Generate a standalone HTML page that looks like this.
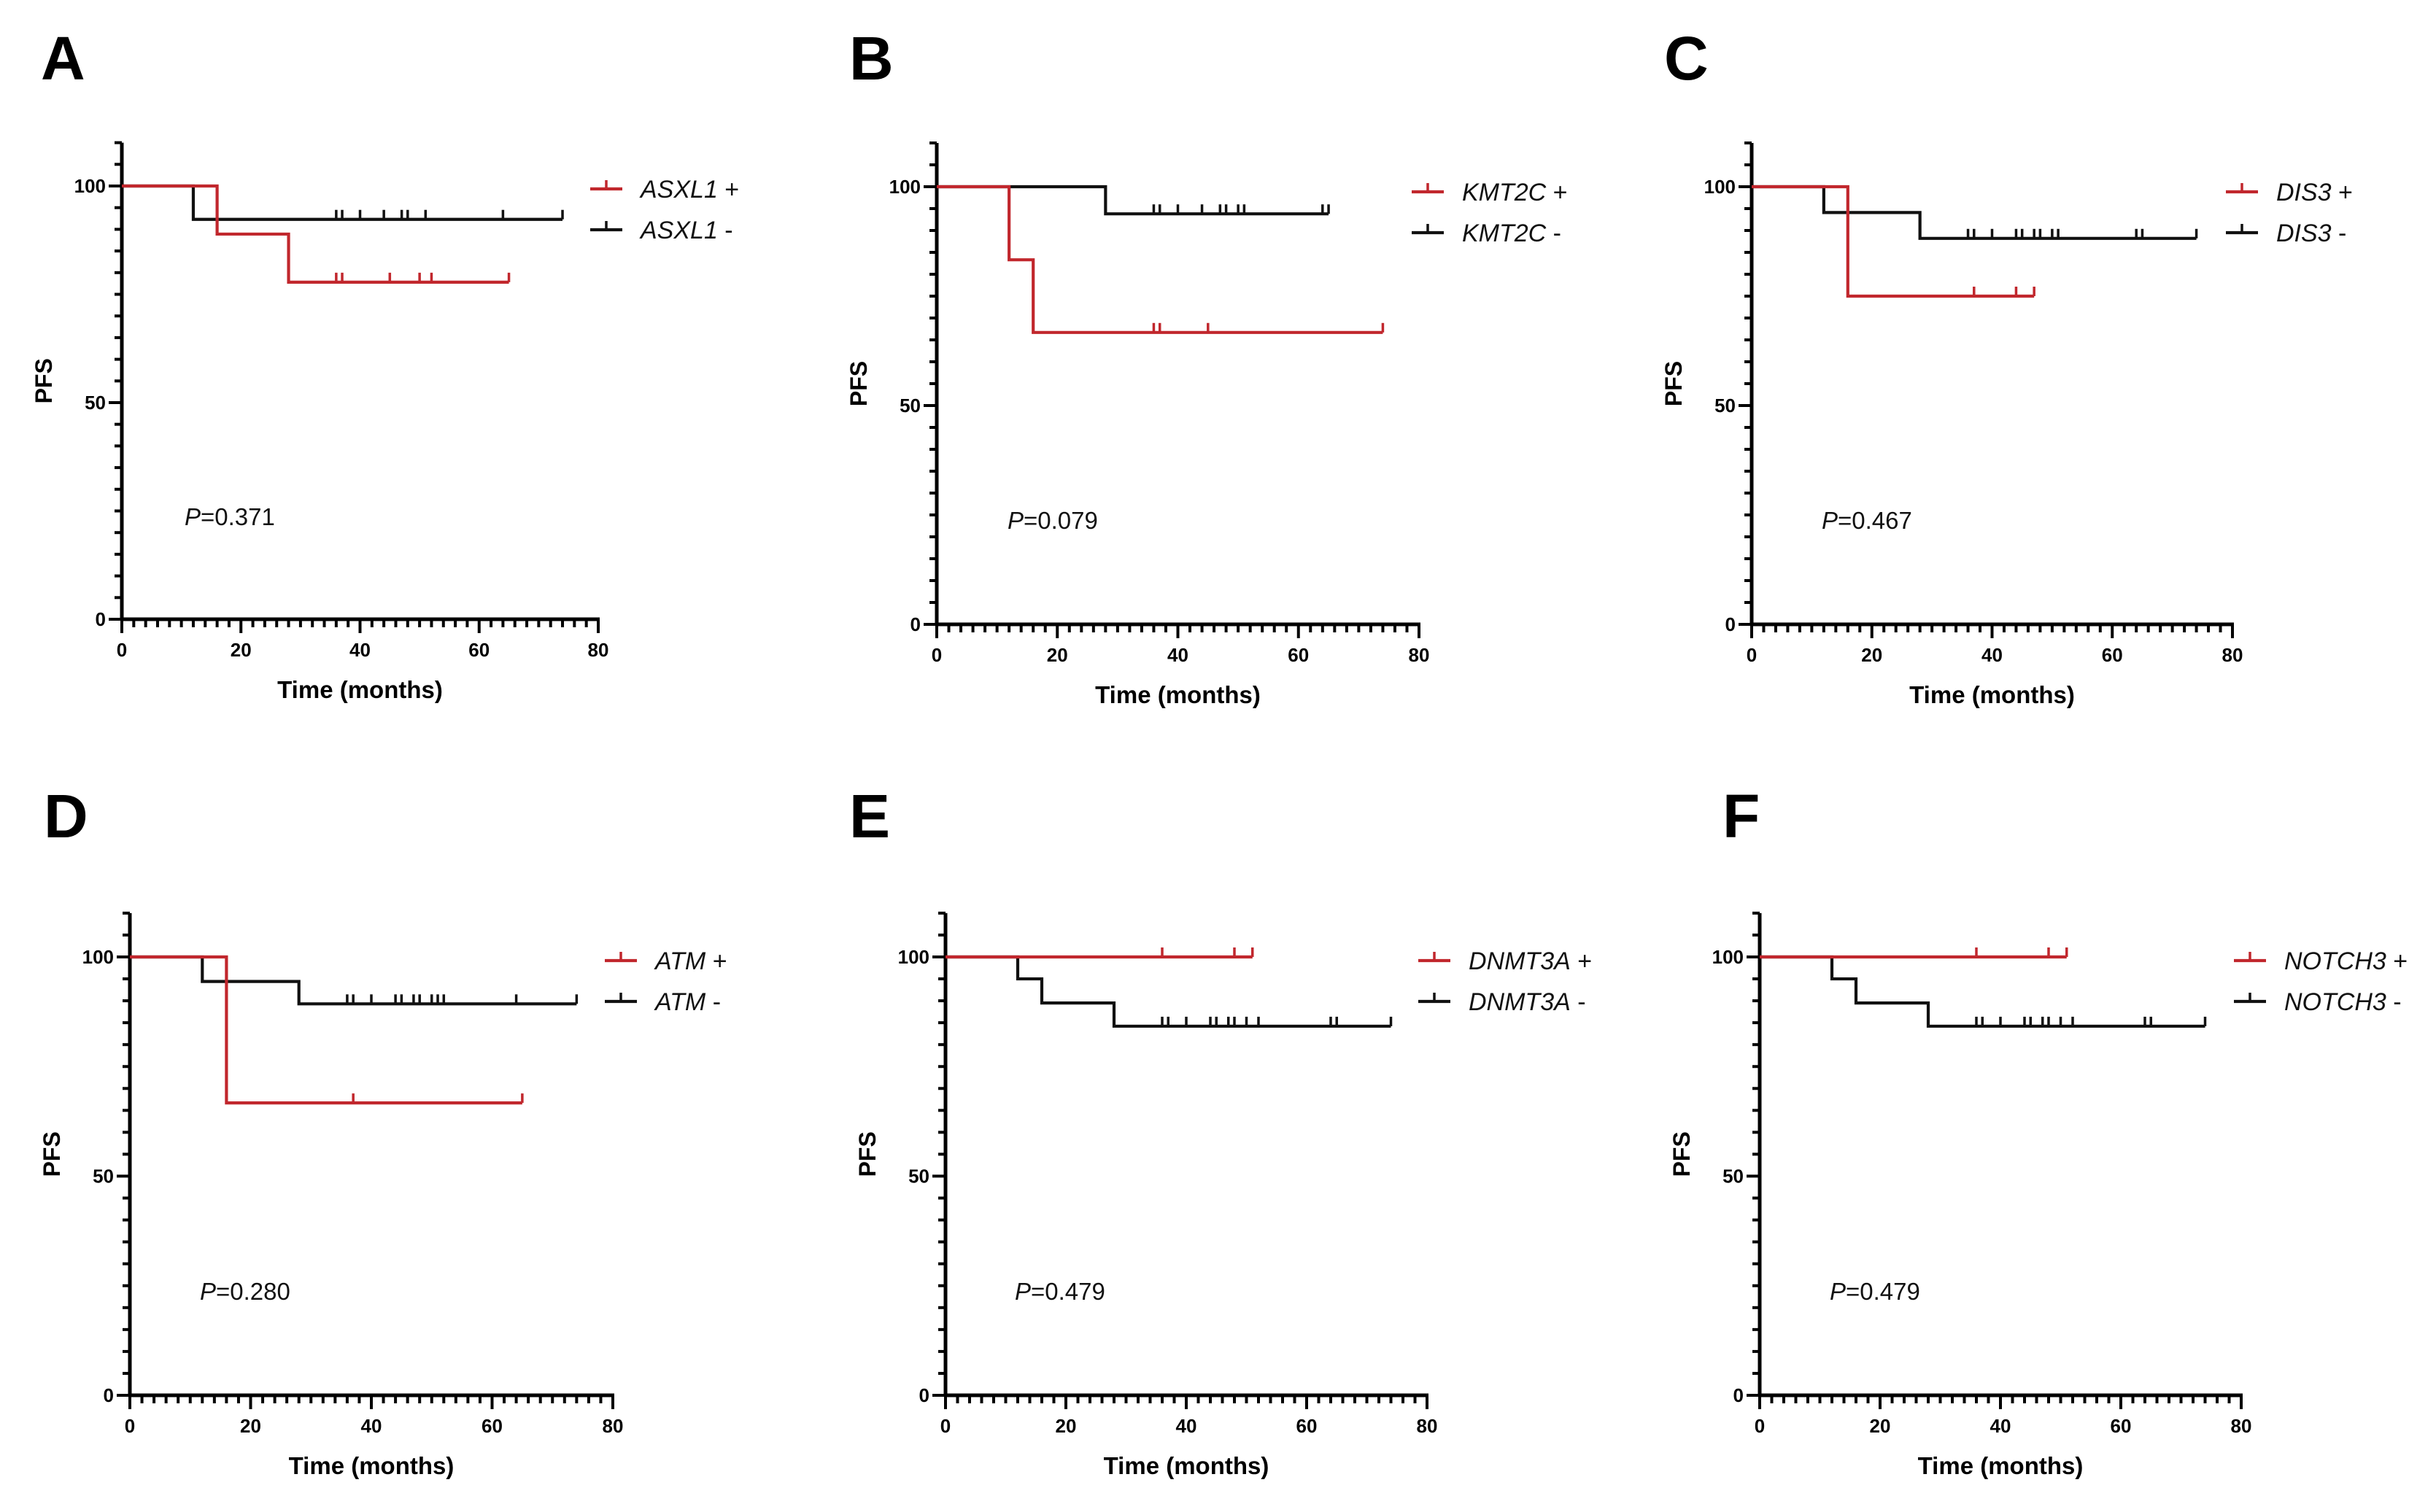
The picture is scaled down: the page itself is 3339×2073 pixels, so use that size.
<!DOCTYPE html>
<html><head><meta charset="utf-8">
<style>
html,body{margin:0;padding:0;background:#fff;}
svg{display:block;font-family:"Liberation Sans",Arial,sans-serif;}
</style></head>
<body>
<svg id="fig" width="3339" height="2073" viewBox="0 0 3339 2073" xmlns="http://www.w3.org/2000/svg"></svg>
<script>
// ---- data (months, PFS %) ----
const xTicks = [0, 20, 40, 60, 80];
const yTicks = [0, 50, 100];
const panelLetters = ["A", "B", "C", "D", "E", "F"];
const genes = ["ASXL1", "KMT2C", "DIS3", "ATM", "DNMT3A", "NOTCH3"];
const pValues = ["0.371", "0.079", "0.467", "0.280", "0.479", "0.479"];

const aPosT = [0, 16, 28];       const aPosS = [100, 88.9, 77.8];
const aPosCens = [36, 37, 45, 50, 52, 65];
const aNegT = [0, 12];           const aNegS = [100, 92.3];
const aNegCens = [36, 37, 40, 44, 47, 48, 51, 64, 74];

const bPosT = [0, 12, 16];       const bPosS = [100, 83.3, 66.7];
const bPosCens = [36, 37, 45, 74];
const bNegT = [0, 28];           const bNegS = [100, 93.8];
const bNegCens = [36, 37, 40, 44, 47, 48, 50, 51, 64, 65];

const cPosT = [0, 16];           const cPosS = [100, 75];
const cPosCens = [37, 44, 47];
const cNegT = [0, 12, 28];       const cNegS = [100, 94.1, 88.2];
const cNegCens = [36, 37, 40, 44, 45, 47, 48, 50, 51, 64, 65, 74];

const dPosT = [0, 16];           const dPosS = [100, 66.7];
const dPosCens = [37, 65];
const dNegT = [0, 12, 28];       const dNegS = [100, 94.4, 89.3];
const dNegCens = [36, 37, 40, 44, 45, 47, 48, 50, 51, 52, 64, 74];

const ePosT = [0];               const ePosS = [100];
const ePosCens = [36, 48, 51];
const eNegT = [0, 12, 16, 28];   const eNegS = [100, 95, 89.5, 84.2];
const eNegCens = [36, 37, 40, 44, 45, 47, 48, 50, 52, 64, 65, 74];

const fPosT = [0];               const fPosS = [100];
const fPosCens = [36, 48, 51];
const fNegT = [0, 12, 16, 28];   const fNegS = [100, 95, 89.5, 84.2];
const fNegCens = [36, 37, 40, 44, 45, 47, 48, 50, 52, 64, 65, 74];

const posSeries = [[aPosT,aPosS,aPosCens],[bPosT,bPosS,bPosCens],[cPosT,cPosS,cPosCens],[dPosT,dPosS,dPosCens],[ePosT,ePosS,ePosCens],[fPosT,fPosS,fPosCens]];
const negSeries = [[aNegT,aNegS,aNegCens],[bNegT,bNegS,bNegCens],[cNegT,cNegS,cNegCens],[dNegT,dNegS,dNegCens],[eNegT,eNegS,eNegCens],[fNegT,fNegS,fNegCens]];

// ---- layout ----
const geom = [
  {x0:167,x1:820,y0:849,y1:255,lx:809,ly:259,letX:56,letY:109,pX:253,pY:720},
  {x0:1284,x1:1945,y0:856,y1:256,lx:1935,ly:263,letX:1164,letY:109,pX:1381,pY:725},
  {x0:2401,x1:3060,y0:856,y1:256,lx:3051,ly:263,letX:2281,letY:109,pX:2497,pY:725},
  {x0:178,x1:840,y0:1913,y1:1312,lx:829,ly:1317,letX:60,letY:1148,pX:274,pY:1782},
  {x0:1296,x1:1956,y0:1913,y1:1312,lx:1944,ly:1317,letX:1164,letY:1148,pX:1391,pY:1782},
  {x0:2412,x1:3072,y0:1913,y1:1312,lx:3062,ly:1317,letX:2361,letY:1148,pX:2508,pY:1782}
];
const RED = "#c1272d", BLK = "#111";
const NS = "http://www.w3.org/2000/svg";
const svg = document.getElementById("fig");
function mk(tag, attrs, parent) {
  const e = document.createElementNS(NS, tag);
  for (const k in attrs) e.setAttribute(k, attrs[k]);
  (parent || svg).appendChild(e);
  return e;
}
function survAt(T, S, t) { let v = S[0]; for (let i = 0; i < T.length; i++) if (T[i] <= t) v = S[i]; return v; }

geom.forEach((g, pi) => {
  const sx = v => g.x0 + (g.x1 - g.x0) * v / 80;
  const sy = v => g.y0 - (g.y0 - g.y1) * v / 100;
  const grp = mk("g", {});
  
  

  const let_ = mk("text", {x:g.letX, y:g.letY, "font-size":84, "font-weight":"bold", fill:"#000"}, grp);
  let_.textContent = panelLetters[pi];
  
  

  // axes
  const yAx = mk("line", {x1:sx(0), y1:sy(110), x2:sx(0), y2:g.y0+2, stroke:"#000","stroke-width":5}, grp);
  
  
  const xAx = mk("line", {x1:sx(0)-2, y1:g.y0, x2:sx(80)+2, y2:g.y0, stroke:"#000","stroke-width":5}, grp);
  
  
  for (let v = 0; v <= 110; v += 5) {
    const major = yTicks.indexOf(v) >= 0;
    mk("line", {x1:sx(0), y1:sy(v), x2:sx(0)-(major?18:10), y2:sy(v), stroke:"#000","stroke-width":4}, grp);
  }
  for (let v = 0; v <= 80; v += 2) {
    const major = xTicks.indexOf(v) >= 0;
    mk("line", {x1:sx(v), y1:g.y0, x2:sx(v), y2:g.y0+(major?19:11), stroke:"#000","stroke-width":4}, grp);
  }
  yTicks.forEach(v => {
    const t = mk("text", {x:sx(0)-22, y:sy(v)+9, "font-size":26, "font-weight":"bold", "text-anchor":"end"}, grp);
    t.textContent = v;
    
    
  });
  xTicks.forEach(v => {
    const t = mk("text", {x:sx(v), y:g.y0+51, "font-size":26, "font-weight":"bold", "text-anchor":"middle"}, grp);
    t.textContent = v;
    
    
  });
  const xt = mk("text", {x:(sx(0)+sx(80))/2, y:g.y0+108, "font-size":33, "font-weight":"bold", "text-anchor":"middle"}, grp);
  xt.textContent = "Time (months)";
  
  
  const yt = mk("text", {x:0, y:0, "font-size":32, "font-weight":"bold", "text-anchor":"middle", transform:"translate("+(sx(0)-96)+","+sy(55)+") rotate(-90)"}, grp);
  yt.textContent = "PFS";
  
  

  const pt = mk("text", {x:g.pX, y:g.pY, "font-size":33, fill:"#111"}, grp);
  pt.innerHTML = '<tspan font-style="italic">P</tspan>=' + pValues[pi];
  
  

  // curves
  [[negSeries[pi], BLK, "neg"], [posSeries[pi], RED, "pos"]].forEach(([ser, col, nm]) => {
    const T = ser[0], S = ser[1], C = ser[2];
    const end = Math.max(...C);
    let d = "M" + sx(T[0]) + "," + sy(S[0]);
    for (let i = 1; i < T.length; i++) d += " H" + sx(T[i]) + " V" + sy(S[i]);
    d += " H" + sx(end);
    const p = mk("path", {d:d, fill:"none", stroke:col, "stroke-width":4.2}, grp);
    
    
    C.forEach(c => {
      const y = sy(survAt(T, S, c));
      const tk = mk("line", {x1:sx(c), y1:y, x2:sx(c), y2:y-13, stroke:col, "stroke-width":3.5}, grp);
      
      
    });
  });

  // legend
  [["+", RED, g.ly], ["-", BLK, g.ly+56]].forEach(([sg, col, y]) => {
    const lg = mk("g", {}, grp);
    
    
    mk("line", {x1:g.lx, y1:y, x2:g.lx+44, y2:y, stroke:col, "stroke-width":4.2}, lg);
    mk("line", {x1:g.lx+22, y1:y, x2:g.lx+22, y2:y-12, stroke:col, "stroke-width":3.5}, lg);
    const tx = mk("text", {x:g.lx+69, y:y+12, "font-size":34, fill:"#111"}, lg);
    tx.innerHTML = '<tspan font-style="italic">' + genes[pi] + '</tspan> ' + sg;
  });
});
</script>
</body></html>
